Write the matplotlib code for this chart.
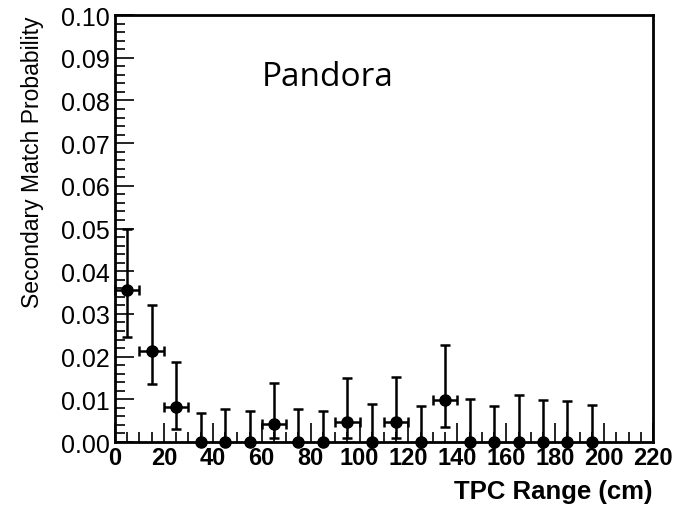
import matplotlib

matplotlib.use("Agg")
import matplotlib.pyplot as plt
from matplotlib.ticker import MultipleLocator, FormatStrFormatter

plt.rcParams["font.family"] = ["Liberation Sans", "DejaVu Sans"]

# bin centres (cm) and probability with asymmetric errors
range_cm = [5, 15, 25, 35, 45, 55, 65, 75, 85, 95,
            105, 115, 125, 135, 145, 155, 165, 175, 185, 195]
prob = [0.0355, 0.0213, 0.0082, 0.0, 0.0, 0.0, 0.0042, 0.0, 0.0, 0.0046,
        0.0, 0.0046, 0.0, 0.0099, 0.0, 0.0, 0.0, 0.0, 0.0, 0.0]
err_low = [0.0110, 0.0078, 0.0052, 0.0, 0.0, 0.0, 0.0032, 0.0, 0.0, 0.0037,
           0.0, 0.0037, 0.0, 0.0064, 0.0, 0.0, 0.0, 0.0, 0.0, 0.0]
err_high = [0.0145, 0.0109, 0.0105, 0.0068, 0.0077, 0.0072, 0.0096, 0.0077, 0.0072, 0.0105,
            0.0089, 0.0106, 0.0085, 0.0128, 0.0100, 0.0084, 0.0110, 0.0098, 0.0096, 0.0087]
half_width = [5 if p > 0 else 0 for p in prob]


def main() -> None:
    fig = plt.figure(figsize=(6.75, 5.06), dpi=100)
    ax = fig.add_axes([0.1704, 0.1245, 0.797, 0.8438])

    ax.errorbar(range_cm, prob, xerr=half_width, yerr=[err_low, err_high],
                fmt="o", color="black", markersize=8, elinewidth=1.8,
                capsize=3.5, capthick=1.8, clip_on=False, zorder=3)

    ax.set_xlim(0, 220)
    ax.set_ylim(0, 0.10)
    ax.xaxis.set_major_locator(MultipleLocator(20))
    ax.xaxis.set_minor_locator(MultipleLocator(5))
    ax.yaxis.set_major_locator(MultipleLocator(0.01))
    ax.yaxis.set_minor_locator(MultipleLocator(0.002))
    ax.yaxis.set_major_formatter(FormatStrFormatter("%.2f"))

    ax.tick_params(which="both", direction="in", top=False, right=False, width=1.2)
    ax.tick_params(which="major", length=14)
    ax.tick_params(which="minor", length=7)
    ax.tick_params(axis="x", which="major", labelsize=17, pad=3)
    ax.tick_params(axis="y", which="major", labelsize=18, pad=4)
    for lab in ax.get_xticklabels():
        lab.set_fontweight("bold")
    for sp in ax.spines.values():
        sp.set_linewidth(2)

    ax.set_ylabel("Secondary Match Probability", fontsize=16.5, loc="top", labelpad=12)
    ax.set_xlabel("TPC Range (cm)", fontsize=18.5, fontweight="bold", loc="right", labelpad=7)

    ax.text(0.272, 0.835, "Pandora", transform=ax.transAxes, fontsize=24,
            family=["Open Sans", "DejaVu Sans"])

    fig.savefig("out.png")
    plt.close(fig)


if __name__ == "__main__":
    main()
